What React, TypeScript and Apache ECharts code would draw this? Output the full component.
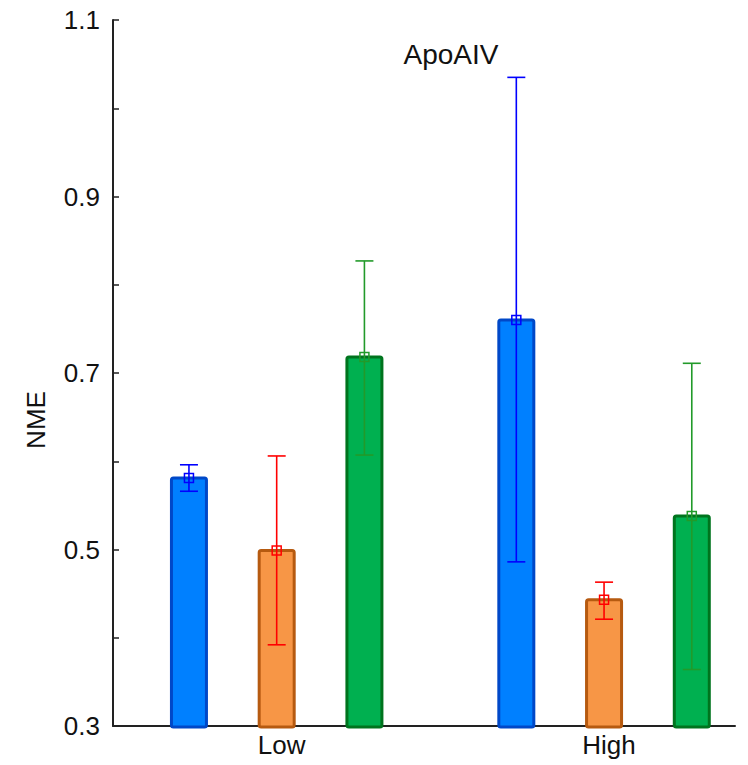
import React, { useEffect, useRef } from "react";
import * as echarts from "echarts";

const categories = ["Low", "High"];
const seriesNames = ["S1", "S2", "S3"];
const blueMean = [0.581, 0.76];
const blueLow = [0.566, 0.486];
const blueHigh = [0.596, 1.035];
const orangeMean = [0.499, 0.443];
const orangeLow = [0.392, 0.421];
const orangeHigh = [0.606, 0.463];
const greenMean = [0.718, 0.538];
const greenLow = [0.607, 0.364];
const greenHigh = [0.827, 0.711];
const yTicks = [0.3, 0.5, 0.7, 0.9, 1.1];

const Y_MIN = 0.3;
const Y_MAX = 1.1;
const OFFSETS = [-0.268, 0, 0.268];
const BAR_W = 35;
const CAP_W = 18;
const MARK = 9;
const FILLS = ["#0080ff", "#f79646", "#00b050"];
const BORDERS = ["#0048c8", "#b65a10", "#00741e"];
const ERRS = ["#0000ff", "#ff0000", "#229a2a"];
const FONT = "'Liberation Sans', Arial, sans-serif";

const groups = [
  [blueMean, blueLow, blueHigh],
  [orangeMean, orangeLow, orangeHigh],
  [greenMean, greenLow, greenHigh],
];

export default function App() {
  const ref = useRef<HTMLDivElement>(null);
  useEffect(() => {
    if (!ref.current) return;
    const chart = echarts.init(ref.current, undefined, { renderer: "svg" });
    const series = groups.map((g, i) => ({
      type: "custom",
      name: seriesNames[i],
      data: categories.map((_, j) => [j + 1 + OFFSETS[i], g[0][j], g[1][j], g[2][j]]),
      encode: { x: 0, y: 1 },
      renderItem: (_p: any, api: any) => {
        const x = api.value(0);
        const mean = api.value(1);
        const lo = api.value(2);
        const hi = api.value(3);
        const base = api.coord([x, Y_MIN]);
        const top = api.coord([x, mean]);
        const pLo = api.coord([x, lo]);
        const pHi = api.coord([x, hi]);
        const cx = top[0];
        return {
          type: "group",
          children: [
            {
              type: "rect",
              shape: { x: cx - BAR_W / 2, y: top[1], width: BAR_W, height: base[1] - top[1] + 1, r: 2 },
              style: { fill: FILLS[i], stroke: BORDERS[i], lineWidth: 3 },
            },
            {
              type: "line",
              shape: { x1: cx, y1: pLo[1], x2: cx, y2: pHi[1] },
              style: { stroke: ERRS[i], lineWidth: 1.6 },
            },
            {
              type: "line",
              shape: { x1: cx - CAP_W / 2, y1: pLo[1], x2: cx + CAP_W / 2, y2: pLo[1] },
              style: { stroke: ERRS[i], lineWidth: 1.6 },
            },
            {
              type: "line",
              shape: { x1: cx - CAP_W / 2, y1: pHi[1], x2: cx + CAP_W / 2, y2: pHi[1] },
              style: { stroke: ERRS[i], lineWidth: 1.6 },
            },
            {
              type: "rect",
              shape: { x: cx - MARK / 2, y: top[1] - MARK / 2, width: MARK, height: MARK },
              style: { fill: "none", stroke: ERRS[i], lineWidth: 1.5 },
            },
          ],
        };
      },
    }));
    chart.setOption({
      animation: false,
      backgroundColor: "#ffffff",
      grid: { left: 113, right: 13, top: 20, bottom: 39, containLabel: false },
      xAxis: {
        type: "value",
        min: 0.5,
        max: 2.4,
        splitLine: { show: false },
        axisLine: { show: true, onZero: false, lineStyle: { color: "#222", width: 2 } },
        axisTick: { show: true, inside: true, length: 5, customValues: [1, 2], lineStyle: { color: "#222", width: 1.5 } },
        axisLabel: {
          show: true,
          customValues: [1, 2],
          formatter: (v: number) => categories[Math.round(v) - 1] ?? "",
          color: "#111",
          fontFamily: FONT,
          fontSize: 26,
          margin: 6,
          padding: [0, 0, 0, 10],
        },
      },
      yAxis: {
        type: "value",
        min: Y_MIN,
        max: Y_MAX,
        interval: 0.1,
        splitLine: { show: false },
        axisLine: { show: true, lineStyle: { color: "#222", width: 2 } },
        axisTick: { show: true, inside: true, length: 6, lineStyle: { color: "#222", width: 1.5 } },
        axisLabel: {
          color: "#111",
          fontFamily: FONT,
          fontSize: 26,
          margin: 13,
          formatter: (v: number) => {
            const hit = yTicks.find((t) => Math.abs(t - v) < 1e-6);
            return hit !== undefined ? hit.toFixed(1) : "";
          },
        },
      },
      graphic: [
        {
          type: "text",
          x: 451,
          y: 54,
          style: {
            text: "ApoAIV",
            fontFamily: FONT,
            fontSize: 28,
            fill: "#111",
            textAlign: "center",
            textVerticalAlign: "middle",
          },
        },
        {
          type: "text",
          x: 36,
          y: 420,
          rotation: Math.PI / 2,
          style: {
            text: "NME",
            fontFamily: FONT,
            fontSize: 26,
            fill: "#111",
            textAlign: "center",
            textVerticalAlign: "middle",
          },
        },
      ],
      series,
    });
    return () => chart.dispose();
  }, []);
  return <div ref={ref} style={{ position: "absolute", left: 0, top: 0, width: 748, height: 765 }} />;
}
